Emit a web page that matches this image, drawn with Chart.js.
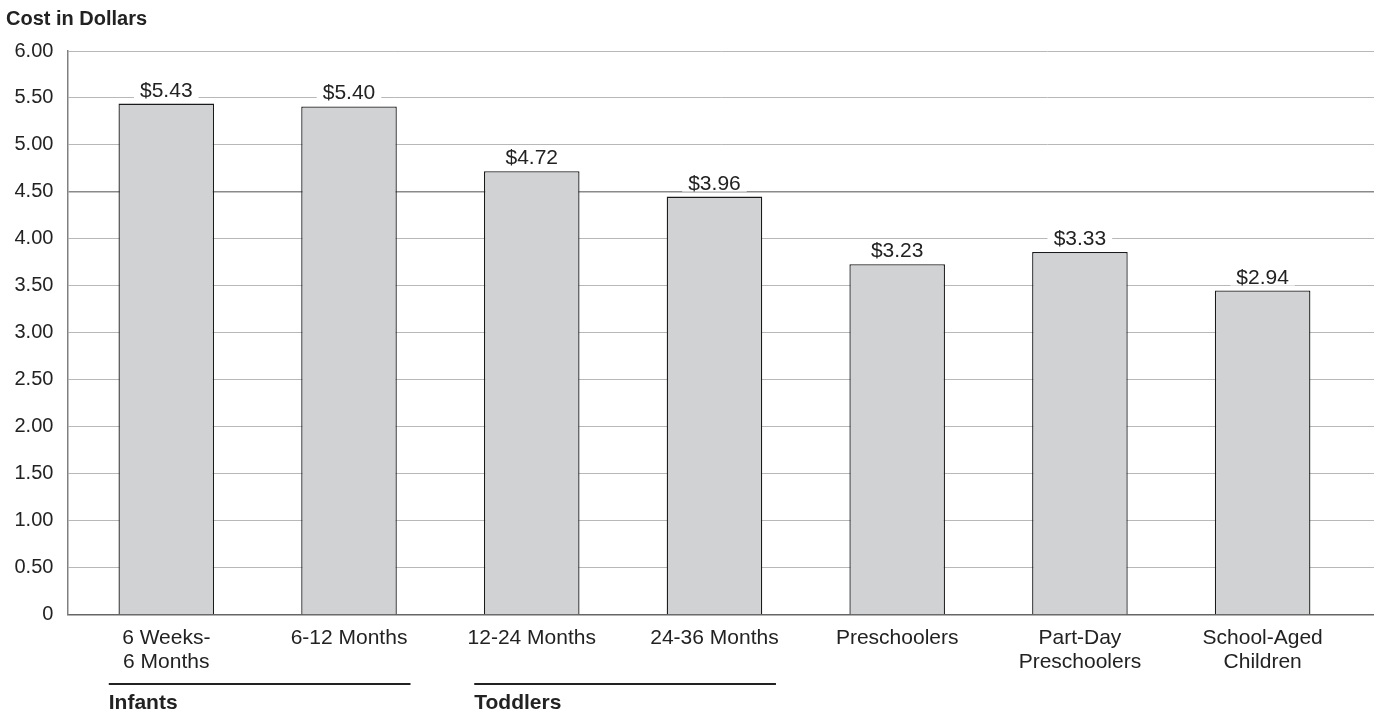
<!DOCTYPE html>
<html>
<head>
<meta charset="utf-8">
<script src="https://cdn.jsdelivr.net/npm/chart.js@4.4.1/dist/chart.umd.min.js"></script>
<style>
  html, body { margin: 0; padding: 0; background: #fff; }
  #wrap { position: relative; width: 1374px; height: 713px; }
</style>
</head>
<body>
<div id="wrap"><canvas id="chart"></canvas></div>
<script>
// Cost per child by age group
const categories = [['6 Weeks-', '6 Months'], '6-12 Months', '12-24 Months', '24-36 Months', 'Preschoolers', ['Part-Day', 'Preschoolers'], ['School-Aged', 'Children']];
// bar heights as drawn in the picture
const barHeights = [5.44, 5.41, 4.72, 4.45, 3.73, 3.86, 3.45];
// printed labels above the bars
const valueLabels = ['$5.43', '$5.40', '$4.72', '$3.96', '$3.23', '$3.33', '$2.94'];
const yTicks = [0, 0.5, 1, 1.5, 2, 2.5, 3, 3.5, 4, 4.5, 5, 5.5, 6];
const groups = [
  { name: 'Infants', from: 0, to: 1 },
  { name: 'Toddlers', from: 2, to: 3 }
];

const FONT = '"Liberation Sans", Arial, Helvetica, sans-serif';

const extras = {
  id: 'extras',
  afterLayout(chart) {
    // categories sit a little inside the plot frame
    const x = chart.scales.x;
    const a = chart.chartArea;
    x._startPixel = a.left + 7.5;
    x._endPixel = a.right - 20;
    x._length = x._endPixel - x._startPixel;
  },
  afterDatasetsDraw(chart) {
    const ctx = chart.ctx;
    const x = chart.scales.x;
    const meta = chart.getDatasetMeta(0);
    ctx.save();
    // value labels with white backing
    ctx.font = '21px ' + FONT;
    ctx.textAlign = 'center';
    ctx.textBaseline = 'alphabetic';
    meta.data.forEach((bar, i) => {
      const w = ctx.measureText(valueLabels[i]).width;
      const by = bar.y - 7;
      ctx.fillStyle = '#fff';
      ctx.fillRect(bar.x - w / 2 - 6, by - 18, w + 12, 20);
      ctx.fillStyle = '#222';
      ctx.fillText(valueLabels[i], bar.x, by);
    });
    // axis title
    ctx.font = 'bold 20px ' + FONT;
    ctx.textAlign = 'left';
    ctx.fillStyle = '#222';
    ctx.fillText('Cost in Dollars', 6, 25);
    // group brackets
    groups.forEach(g => {
      const x0 = x.getPixelForValue(g.from) - 57.5;
      const x1 = x.getPixelForValue(g.to) + 61.5;
      ctx.strokeStyle = '#222';
      ctx.lineWidth = 2;
      ctx.beginPath();
      ctx.moveTo(x0, 684);
      ctx.lineTo(x1, 684);
      ctx.stroke();
      ctx.font = 'bold 21px ' + FONT;
      ctx.fillStyle = '#222';
      ctx.fillText(g.name, x0, 709);
    });
    ctx.restore();
  }
};

new Chart(document.getElementById('chart'), {
  type: 'bar',
  data: {
    labels: categories,
    datasets: [{
      data: barHeights,
      backgroundColor: '#d1d2d4',
      borderColor: '#1a1a1a',
      borderWidth: 1.3,
      barPercentage: 0.523,
      categoryPercentage: 1
    }]
  },
  options: {
    responsive: true,
    maintainAspectRatio: false,
    animation: false,
    layout: { padding: { top: 51, right: 0, bottom: 28, left: 0.5 } },
    plugins: { legend: { display: false }, tooltip: { enabled: false } },
    scales: {
      x: {
        grid: { display: false, drawTicks: false },
        border: { color: '#666', width: 1.5 },
        ticks: { color: '#222', font: { family: FONT, size: 21, lineHeight: 1.15 }, padding: 11, maxRotation: 0, autoSkip: false }
      },
      y: {
        min: 0, max: 6,
        afterBuildTicks: axis => { axis.ticks = yTicks.map(v => ({ value: v })); },
        grid: {
          drawTicks: false,
          color: ctx => (ctx.tick && ctx.tick.value === 4.5) ? '#8a8a8a' : '#b8b8b8',
          lineWidth: ctx => (ctx.tick && ctx.tick.value === 4.5) ? 1.5 : 1
        },
        border: { color: '#808080', width: 1.5 },
        ticks: {
          color: '#222', font: { family: FONT, size: 20 }, padding: 14,
          callback: v => v === 0 ? '0' : v.toFixed(2)
        }
      }
    }
  },
  plugins: [extras]
});
</script>
</body>
</html>
